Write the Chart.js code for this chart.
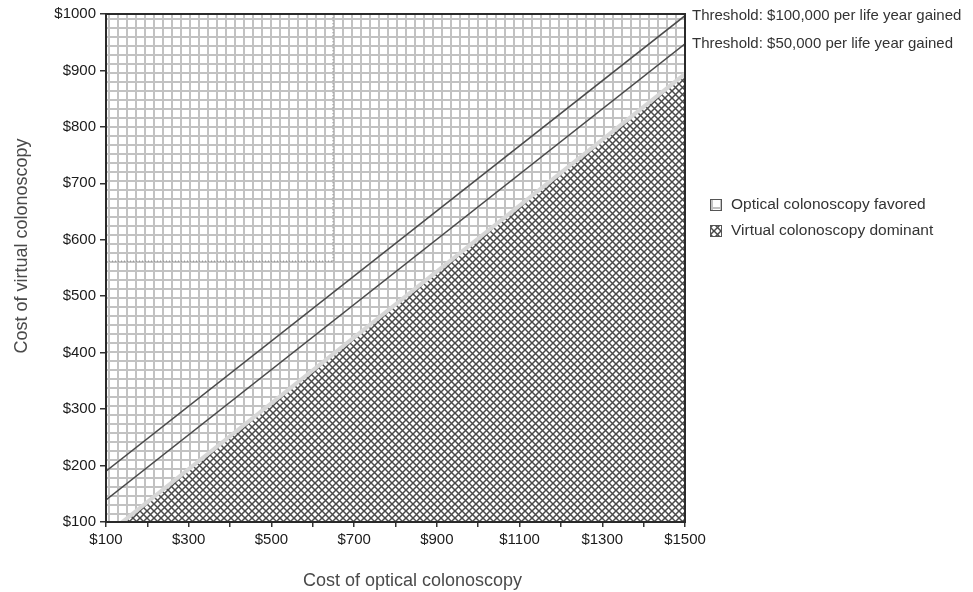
<!DOCTYPE html>
<html>
<head>
<meta charset="utf-8">
<script src="https://cdn.jsdelivr.net/npm/chart.js@4.4.1/dist/chart.umd.min.js"></script>
<style>
  html, body { margin: 0; background: #fff; }
  #wrap { position: relative; width: 973px; height: 592px; }
</style>
</head>
<body>
<div id="wrap"><canvas id="chart"></canvas></div>
<script>
// values
const opticalCost = [100, 1500];
const thr100k = [190, 997];      // $100,000 per life year gained
const thr50k = [139, 947];       // $50,000 per life year gained
const dominanceX = [100, 1500];
const dominanceY = [77, 894];     // below this virtual colonoscopy dominates
const baseOptical = 649;
const baseVirtual = 562;
const axisMin = { x: 100, y: 100 };
const axisMax = { x: 1500, y: 1000 };

const thresholdLabels = ['Threshold: $100,000 per life year gained', 'Threshold: $50,000 per life year gained'];
const legendLabels = ['Optical colonoscopy favored', 'Virtual colonoscopy dominant'];
const xTitle = 'Cost of optical colonoscopy';
const yTitle = 'Cost of virtual colonoscopy';

const FONT = "'Liberation Sans', Arial, sans-serif";

const ctx = document.getElementById('chart').getContext('2d');

function makeGrid() {
  const c = document.createElement('canvas');
  c.width = 9; c.height = 9;
  const g = c.getContext('2d');
  g.fillStyle = '#fff';
  g.fillRect(0, 0, 9, 9);
  g.fillStyle = '#c2c2c2';
  g.fillRect(0, 0, 9, 2);
  g.fillRect(0, 0, 2, 9);
  return ctx.createPattern(c, 'repeat');
}

function makeCross() {
  const p = 7;
  const c = document.createElement('canvas');
  c.width = p; c.height = p;
  const g = c.getContext('2d');
  g.fillStyle = '#fff';
  g.fillRect(0, 0, p, p);
  g.strokeStyle = '#4a4a4a';
  g.lineWidth = 1.5;
  for (let k = -1; k <= 1; k++) {
    g.beginPath();
    g.moveTo(k * p - 1, -1); g.lineTo(k * p + p + 1, p + 1);
    g.moveTo(k * p - 1, p + 1); g.lineTo(k * p + p + 1, -1);
    g.stroke();
  }
  return ctx.createPattern(c, 'repeat');
}

const gridFill = makeGrid();
const crossFill = makeCross();

function pts(xs, ys) {
  return xs.map((x, i) => ({ x: x, y: ys[i] }));
}

const decor = {
  id: 'decor',
  afterDatasetsDraw(chart) {
    const a = chart.chartArea;
    const c = chart.ctx;
    c.save();
    c.strokeStyle = '#2a2a2a';
    c.lineWidth = 2;
    c.strokeRect(a.left, a.top, a.right - a.left, a.bottom - a.top);
    c.restore();
  },
  afterDraw(chart) {
    const a = chart.chartArea;
    const c = chart.ctx;
    c.save();
    c.fillStyle = '#333';
    c.font = '15px ' + FONT;
    c.textBaseline = 'middle';
    c.textAlign = 'left';
    [0, 1].forEach(i => {
      const d = chart.getDatasetMeta(i).data;
      const last = d[d.length - 1];
      c.fillText(thresholdLabels[i], a.right + 7, last.y);
    });

    // legend
    const fills = [gridFill, crossFill];
    c.font = '15.5px ' + FONT;
    legendLabels.forEach((t, i) => {
      const y = a.top + 191 + i * 26;
      const x = a.right + 25;
      c.fillStyle = fills[i];
      c.fillRect(x, y - 6, 12, 12);
      c.strokeStyle = '#555';
      c.lineWidth = 1;
      c.strokeRect(x + 0.5, y - 5.5, 11, 11);
      c.fillStyle = '#333';
      c.fillText(t, x + 21, y);
    });

    // axis titles
    c.fillStyle = '#4a4a4a';
    c.font = '18px ' + FONT;
    c.textAlign = 'center';
    c.fillText(xTitle, (a.left + a.right) / 2 + 17, 581);
    c.translate(22, 246);
    c.rotate(-Math.PI / 2);
    c.fillText(yTitle, 0, 0);
    c.restore();
  }
};

new Chart(ctx, {
  type: 'line',
  data: {
    datasets: [
      {
        data: pts(opticalCost, thr100k),
        borderColor: '#4a4a4a', borderWidth: 1.5,
        pointRadius: 0, fill: false, order: 1
      },
      {
        data: pts(opticalCost, thr50k),
        borderColor: '#4a4a4a', borderWidth: 1.5,
        pointRadius: 0, fill: false, order: 1
      },
      {
        data: pts([axisMin.x, baseOptical], [baseVirtual, baseVirtual]),
        borderColor: '#9a9a9a', borderWidth: 1.5, borderDash: [1, 2],
        pointRadius: 0, fill: false, order: 3
      },
      {
        data: pts([baseOptical, baseOptical], [baseVirtual, axisMax.y]),
        borderColor: '#9a9a9a', borderWidth: 1.5, borderDash: [1, 2],
        pointRadius: 0, fill: false, order: 3
      },
      {
        data: pts(dominanceX, dominanceY),
        borderColor: '#d6d6d6', borderWidth: 4,
        pointRadius: 0, fill: false, order: 5
      },
      {
        data: pts(dominanceX, dominanceY),
        borderWidth: 0, backgroundColor: gridFill,
        pointRadius: 0, fill: 'end', order: 10
      },
      {
        data: pts(dominanceX, dominanceY),
        borderWidth: 0, backgroundColor: crossFill,
        pointRadius: 0, fill: 'start', order: 10
      }
    ]
  },
  options: {
    responsive: true,
    maintainAspectRatio: false,
    animation: false,
    layout: { padding: { top: 14, right: 288, left: 0, bottom: 0 } },
    plugins: {
      legend: { display: false },
      tooltip: { enabled: false }
    },
    scales: {
      x: {
        type: 'linear',
        min: axisMin.x, max: axisMax.x,
        afterFit(s) { s.height = 70; },
        border: { display: true, color: '#222', width: 2 },
        grid: { drawOnChartArea: false, drawTicks: true, tickLength: 5, color: '#333', lineWidth: 1.5 },
        ticks: {
          stepSize: 100, autoSkip: false, maxRotation: 0, padding: 4,
          color: '#1a1a1a', font: { family: FONT, size: 15 },
          callback: v => ((v - axisMin.x) % 200 === 0 ? '$' + v : '')
        }
      },
      y: {
        min: axisMin.y, max: axisMax.y,
        afterFit(s) { s.width = 106; },
        border: { display: true, color: '#222', width: 2 },
        grid: { drawOnChartArea: false, drawTicks: true, tickLength: 6, color: '#333', lineWidth: 1.5 },
        ticks: {
          stepSize: 100, padding: 4,
          color: '#1a1a1a', font: { family: FONT, size: 15 },
          callback: v => '$' + v
        }
      }
    }
  },
  plugins: [decor]
});
</script>
</body>
</html>
